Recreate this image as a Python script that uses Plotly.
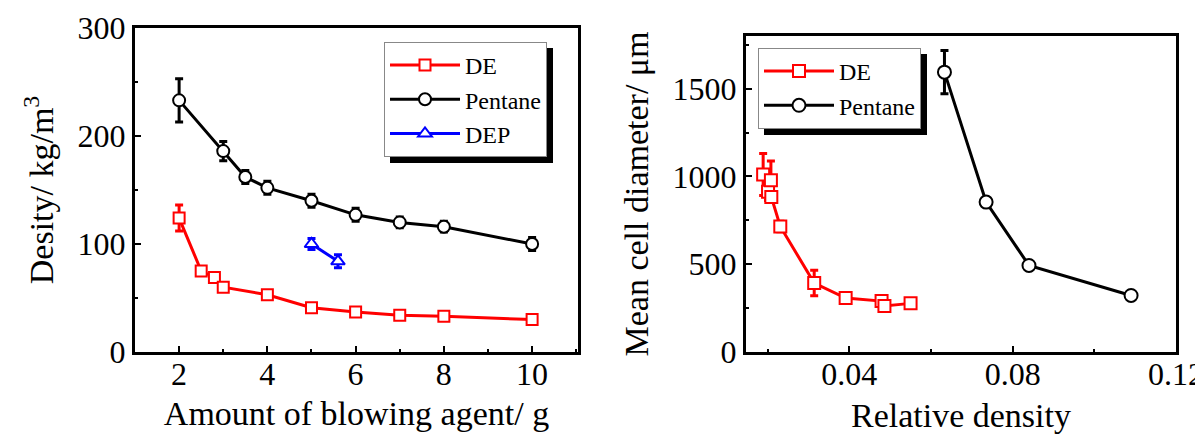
import plotly.graph_objects as go

# ---- Left panel data: density vs amount of blowing agent ----
de_amount = [2, 2.5, 2.8, 3, 4, 5, 6, 7, 8, 10]
de_density = [124, 75, 69, 60, 53, 41, 37, 34, 33, 30]
de_density_err = [12, 3, 3, 4, 3, 3, 3, 3, 3, 3]

pen_amount = [2, 3, 3.5, 4, 5, 6, 7, 8, 10]
pen_density = [233, 186, 162, 152, 140, 127, 120, 116, 100]
pen_density_err = [20, 9, 6, 6, 6, 6, 5, 5, 6]

dep_amount = [5, 5.6]
dep_density = [100, 84]
dep_density_err = [5, 6]

# ---- Right panel data: mean cell diameter vs relative density ----
de_rel = [0.0189, 0.0201, 0.0208, 0.0209, 0.0231, 0.0314, 0.0391, 0.0479, 0.0486, 0.055]
de_diam = [1011, 913, 978, 883, 715, 393, 307, 290, 262, 277]
de_diam_err = [120, 50, 110, 30, 30, 72, 20, 20, 20, 15]

pen_rel = [0.0633, 0.0735, 0.084, 0.109]
pen_diam = [1594, 854, 493, 322]
pen_diam_err = [123, 25, 25, 25]

FONT = "Times New Roman, Liberation Serif, DejaVu Serif, serif"
W, H = 1203, 442

fig = go.Figure()


def add(x, y, err, name, color, symbol, xa, ya, legend, size):
    fig.add_trace(go.Scatter(
        x=x, y=y, name=name, mode="lines+markers",
        xaxis=xa, yaxis=ya, legend=legend,
        line=dict(color=color, width=3),
        marker=dict(symbol=symbol, size=size, color="white",
                    line=dict(color=color, width=2)),
        error_y=dict(type="data", array=err, color=color, thickness=3, width=4),
    ))


add(de_amount, de_density, de_density_err, "DE", "#ff0000", "square", "x", "y", "legend", 11)
add(pen_amount, pen_density, pen_density_err, "Pentane", "#000000", "circle", "x", "y", "legend", 12)
add(dep_amount, dep_density, dep_density_err, "DEP", "#0000ff", "triangle-up", "x", "y", "legend", 12)
add(de_rel, de_diam, de_diam_err, "DE", "#ff0000", "square", "x2", "y2", "legend2", 12)
add(pen_rel, pen_diam, pen_diam_err, "Pentane", "#000000", "circle", "x2", "y2", "legend2", 13)

axis_common = dict(
    showline=True, linewidth=3, linecolor="black", mirror=True,
    ticks="inside", ticklen=6, tickwidth=2, tickcolor="black",
    showgrid=False, zeroline=False,
    tickfont=dict(family=FONT, size=32, color="black"),
    automargin=False,
)
minor_common = dict(ticks="inside", ticklen=3, tickwidth=2, tickcolor="black")

fig.update_layout(
    width=W, height=H, autosize=False,
    margin=dict(l=0, r=0, t=0, b=0),
    paper_bgcolor="white", plot_bgcolor="white",
    font=dict(family=FONT, color="black"),
    xaxis=dict(axis_common, domain=[127 / W, 570 / W], range=[1.0, 11.04],
               tickvals=[2, 4, 6, 8, 10], ticklabelstandoff=-8,
               minor=dict(minor_common, dtick=1, tick0=1),
               title=dict(text="Amount of blowing agent/ g", font=dict(family=FONT, size=34), standoff=10),
               anchor="y"),
    yaxis=dict(axis_common, domain=[1 - 344 / H, 1 - 20 / H], range=[0, 300],
               tickvals=[0, 100, 200, 300],
               minor=dict(minor_common, dtick=50, tick0=0),
               title=dict(text="Desity/ kg/m<sup>3</sup>", font=dict(family=FONT, size=34), standoff=14),
               anchor="x"),
    xaxis2=dict(axis_common, domain=[738 / W, 1168 / W], range=[0.0147, 0.12],
                tickvals=[0.04, 0.08, 0.12], ticktext=["0.04", "0.08", "0.12"],
                ticklabelstandoff=-8,
                minor=dict(minor_common, dtick=0.02, tick0=0),
                title=dict(text="Relative density", font=dict(family=FONT, size=34), standoff=12),
                anchor="y2"),
    yaxis2=dict(axis_common, domain=[1 - 344 / H, 1 - 28 / H], range=[0, 1800],
                tickvals=[0, 500, 1000, 1500],
                minor=dict(minor_common, dtick=250, tick0=0),
                title=dict(text="Mean cell diameter/ μm", font=dict(family=FONT, size=34), standoff=14),
                anchor="x2"),
    legend=dict(x=376 / W, y=1 - 34 / H, xanchor="left", yanchor="top",
                bgcolor="white", bordercolor="#888888", borderwidth=1,
                font=dict(family=FONT, size=24), tracegroupgap=0, itemwidth=70),
    legend2=dict(x=750 / W, y=1 - 40 / H, xanchor="left", yanchor="top",
                 bgcolor="white", bordercolor="#888888", borderwidth=1,
                 font=dict(family=FONT, size=24), tracegroupgap=0, itemwidth=70),
    showlegend=True,
)

# legend drop shadows (drawn beneath the legend boxes)
for (x0, y0, x1, y1) in [(382, 40, 545, 155), (756, 46, 919, 127)]:
    fig.add_shape(type="rect", xref="paper", yref="paper",
                  x0=x0 / W, x1=x1 / W, y0=1 - y1 / H, y1=1 - y0 / H,
                  fillcolor="black", line=dict(width=0), layer="below")

fig.write_html("out.html")
